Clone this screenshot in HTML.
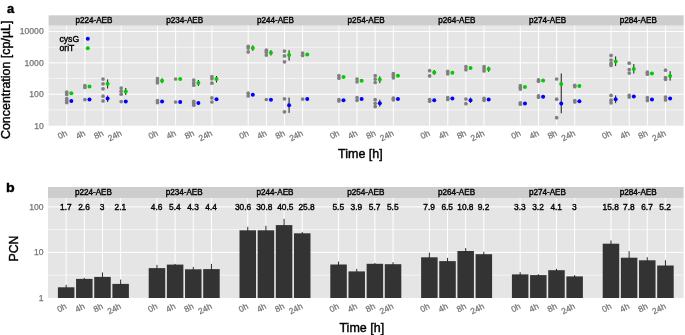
<!DOCTYPE html>
<html><head><meta charset="utf-8"><title>figure</title>
<style>html,body{margin:0;padding:0;background:#fff}svg{display:block}
text{stroke-width:0.4px}
text[fill="#000"],text[fill="#111"]{stroke:#000}
text[fill="#757575"]{stroke:#757575;stroke-width:0.25px}</style></head>
<body>
<svg width="685" height="335" viewBox="0 0 685 335" font-family='"Liberation Sans", sans-serif'>
<rect width="685" height="335" fill="#fff"/>
<rect x="48.6" y="15.3" width="635.05" height="10.399999999999999" fill="#cdcdcd"/>
<rect x="48.6" y="25.7" width="635.05" height="100.0" fill="#e5e5e5"/>
<line x1="48.6" x2="683.65" y1="47.25" y2="47.25" stroke="#fafafa" stroke-width="0.7"/>
<line x1="48.6" x2="683.65" y1="78.55" y2="78.55" stroke="#fafafa" stroke-width="0.7"/>
<line x1="48.6" x2="683.65" y1="109.90" y2="109.90" stroke="#fafafa" stroke-width="0.7"/>
<line x1="48.6" x2="683.65" y1="31.60" y2="31.60" stroke="#fff" stroke-width="1"/>
<line x1="48.6" x2="683.65" y1="62.90" y2="62.90" stroke="#fff" stroke-width="1"/>
<line x1="48.6" x2="683.65" y1="94.20" y2="94.20" stroke="#fff" stroke-width="1"/>
<line x1="66.74" x2="66.74" y1="25.7" y2="125.7" stroke="#fff" stroke-width="1"/>
<line x1="84.89" x2="84.89" y1="25.7" y2="125.7" stroke="#fff" stroke-width="1"/>
<line x1="103.03" x2="103.03" y1="25.7" y2="125.7" stroke="#fff" stroke-width="1"/>
<line x1="121.18" x2="121.18" y1="25.7" y2="125.7" stroke="#fff" stroke-width="1"/>
<line x1="157.47" x2="157.47" y1="25.7" y2="125.7" stroke="#fff" stroke-width="1"/>
<line x1="175.61" x2="175.61" y1="25.7" y2="125.7" stroke="#fff" stroke-width="1"/>
<line x1="193.75" x2="193.75" y1="25.7" y2="125.7" stroke="#fff" stroke-width="1"/>
<line x1="211.90" x2="211.90" y1="25.7" y2="125.7" stroke="#fff" stroke-width="1"/>
<line x1="248.19" x2="248.19" y1="25.7" y2="125.7" stroke="#fff" stroke-width="1"/>
<line x1="266.33" x2="266.33" y1="25.7" y2="125.7" stroke="#fff" stroke-width="1"/>
<line x1="284.48" x2="284.48" y1="25.7" y2="125.7" stroke="#fff" stroke-width="1"/>
<line x1="302.62" x2="302.62" y1="25.7" y2="125.7" stroke="#fff" stroke-width="1"/>
<line x1="338.91" x2="338.91" y1="25.7" y2="125.7" stroke="#fff" stroke-width="1"/>
<line x1="357.05" x2="357.05" y1="25.7" y2="125.7" stroke="#fff" stroke-width="1"/>
<line x1="375.20" x2="375.20" y1="25.7" y2="125.7" stroke="#fff" stroke-width="1"/>
<line x1="393.34" x2="393.34" y1="25.7" y2="125.7" stroke="#fff" stroke-width="1"/>
<line x1="429.63" x2="429.63" y1="25.7" y2="125.7" stroke="#fff" stroke-width="1"/>
<line x1="447.77" x2="447.77" y1="25.7" y2="125.7" stroke="#fff" stroke-width="1"/>
<line x1="465.92" x2="465.92" y1="25.7" y2="125.7" stroke="#fff" stroke-width="1"/>
<line x1="484.06" x2="484.06" y1="25.7" y2="125.7" stroke="#fff" stroke-width="1"/>
<line x1="520.35" x2="520.35" y1="25.7" y2="125.7" stroke="#fff" stroke-width="1"/>
<line x1="538.50" x2="538.50" y1="25.7" y2="125.7" stroke="#fff" stroke-width="1"/>
<line x1="556.64" x2="556.64" y1="25.7" y2="125.7" stroke="#fff" stroke-width="1"/>
<line x1="574.78" x2="574.78" y1="25.7" y2="125.7" stroke="#fff" stroke-width="1"/>
<line x1="611.07" x2="611.07" y1="25.7" y2="125.7" stroke="#fff" stroke-width="1"/>
<line x1="629.22" x2="629.22" y1="25.7" y2="125.7" stroke="#fff" stroke-width="1"/>
<line x1="647.36" x2="647.36" y1="25.7" y2="125.7" stroke="#fff" stroke-width="1"/>
<line x1="665.51" x2="665.51" y1="25.7" y2="125.7" stroke="#fff" stroke-width="1"/>
<text x="93.96" y="23.05" font-size="8.15" text-anchor="middle" fill="#111">p224-AEB</text>
<text x="184.68" y="23.05" font-size="8.15" text-anchor="middle" fill="#111">p234-AEB</text>
<text x="275.40" y="23.05" font-size="8.15" text-anchor="middle" fill="#111">p244-AEB</text>
<text x="366.12" y="23.05" font-size="8.15" text-anchor="middle" fill="#111">p254-AEB</text>
<text x="456.85" y="23.05" font-size="8.15" text-anchor="middle" fill="#111">p264-AEB</text>
<text x="547.57" y="23.05" font-size="8.15" text-anchor="middle" fill="#111">p274-AEB</text>
<text x="638.29" y="23.05" font-size="8.15" text-anchor="middle" fill="#111">p284-AEB</text>
<text transform="translate(65.14,129.60) rotate(-27)" font-size="8.5" text-anchor="end" dy="6.1" fill="#757575">0h</text>
<text transform="translate(83.29,129.60) rotate(-27)" font-size="8.5" text-anchor="end" dy="6.1" fill="#757575">4h</text>
<text transform="translate(101.43,129.60) rotate(-27)" font-size="8.5" text-anchor="end" dy="6.1" fill="#757575">8h</text>
<text transform="translate(119.58,129.60) rotate(-27)" font-size="8.5" text-anchor="end" dy="6.1" fill="#757575">24h</text>
<text transform="translate(155.87,129.60) rotate(-27)" font-size="8.5" text-anchor="end" dy="6.1" fill="#757575">0h</text>
<text transform="translate(174.01,129.60) rotate(-27)" font-size="8.5" text-anchor="end" dy="6.1" fill="#757575">4h</text>
<text transform="translate(192.15,129.60) rotate(-27)" font-size="8.5" text-anchor="end" dy="6.1" fill="#757575">8h</text>
<text transform="translate(210.30,129.60) rotate(-27)" font-size="8.5" text-anchor="end" dy="6.1" fill="#757575">24h</text>
<text transform="translate(246.59,129.60) rotate(-27)" font-size="8.5" text-anchor="end" dy="6.1" fill="#757575">0h</text>
<text transform="translate(264.73,129.60) rotate(-27)" font-size="8.5" text-anchor="end" dy="6.1" fill="#757575">4h</text>
<text transform="translate(282.88,129.60) rotate(-27)" font-size="8.5" text-anchor="end" dy="6.1" fill="#757575">8h</text>
<text transform="translate(301.02,129.60) rotate(-27)" font-size="8.5" text-anchor="end" dy="6.1" fill="#757575">24h</text>
<text transform="translate(337.31,129.60) rotate(-27)" font-size="8.5" text-anchor="end" dy="6.1" fill="#757575">0h</text>
<text transform="translate(355.45,129.60) rotate(-27)" font-size="8.5" text-anchor="end" dy="6.1" fill="#757575">4h</text>
<text transform="translate(373.60,129.60) rotate(-27)" font-size="8.5" text-anchor="end" dy="6.1" fill="#757575">8h</text>
<text transform="translate(391.74,129.60) rotate(-27)" font-size="8.5" text-anchor="end" dy="6.1" fill="#757575">24h</text>
<text transform="translate(428.03,129.60) rotate(-27)" font-size="8.5" text-anchor="end" dy="6.1" fill="#757575">0h</text>
<text transform="translate(446.17,129.60) rotate(-27)" font-size="8.5" text-anchor="end" dy="6.1" fill="#757575">4h</text>
<text transform="translate(464.32,129.60) rotate(-27)" font-size="8.5" text-anchor="end" dy="6.1" fill="#757575">8h</text>
<text transform="translate(482.46,129.60) rotate(-27)" font-size="8.5" text-anchor="end" dy="6.1" fill="#757575">24h</text>
<text transform="translate(518.75,129.60) rotate(-27)" font-size="8.5" text-anchor="end" dy="6.1" fill="#757575">0h</text>
<text transform="translate(536.90,129.60) rotate(-27)" font-size="8.5" text-anchor="end" dy="6.1" fill="#757575">4h</text>
<text transform="translate(555.04,129.60) rotate(-27)" font-size="8.5" text-anchor="end" dy="6.1" fill="#757575">8h</text>
<text transform="translate(573.18,129.60) rotate(-27)" font-size="8.5" text-anchor="end" dy="6.1" fill="#757575">24h</text>
<text transform="translate(609.47,129.60) rotate(-27)" font-size="8.5" text-anchor="end" dy="6.1" fill="#757575">0h</text>
<text transform="translate(627.62,129.60) rotate(-27)" font-size="8.5" text-anchor="end" dy="6.1" fill="#757575">4h</text>
<text transform="translate(645.76,129.60) rotate(-27)" font-size="8.5" text-anchor="end" dy="6.1" fill="#757575">8h</text>
<text transform="translate(663.91,129.60) rotate(-27)" font-size="8.5" text-anchor="end" dy="6.1" fill="#757575">24h</text>
<line x1="48.6" x2="683.65" y1="27.7" y2="27.7" stroke="#ececec" stroke-width="1"/>
<text x="43.7" y="34.30" font-size="8.6" text-anchor="end" fill="#757575">10000</text>
<text x="43.7" y="65.60" font-size="8.6" text-anchor="end" fill="#757575">1000</text>
<text x="43.7" y="96.90" font-size="8.6" text-anchor="end" fill="#757575">100</text>
<text x="43.7" y="128.80" font-size="8.6" text-anchor="end" fill="#757575">10</text>
<text x="7.0" y="13.3" font-size="12.9" font-weight="bold" fill="#000">a</text>
<text transform="translate(10.4,79.8) rotate(-90)" font-size="12.45" text-anchor="middle" fill="#000">Concentration [cp/µL]</text>
<text x="360.4" y="157.7" font-size="12.5" text-anchor="middle" fill="#000">Time [h]</text>
<text x="59.5" y="41.8" font-size="8.6" fill="#000">cysG</text>
<text x="59.5" y="51.3" font-size="8.6" fill="#000">oriT</text>
<circle cx="87.8" cy="38.8" r="2" fill="#0000ff"/>
<circle cx="87.8" cy="48.2" r="2" fill="#00cc00"/>
<circle cx="66.74" cy="92.2" r="1.85" fill="#808080"/>
<circle cx="66.74" cy="94.4" r="1.85" fill="#808080"/>
<circle cx="66.74" cy="98.5" r="1.85" fill="#808080"/>
<circle cx="66.74" cy="100.6" r="1.85" fill="#808080"/>
<circle cx="66.74" cy="102.6" r="1.85" fill="#808080"/>
<circle cx="71.34" cy="93.2" r="2" fill="#00cc00"/>
<circle cx="71.34" cy="100.9" r="2" fill="#0000ff"/>
<circle cx="84.89" cy="85.5" r="1.85" fill="#808080"/>
<circle cx="84.89" cy="87.5" r="1.85" fill="#808080"/>
<circle cx="84.89" cy="99.6" r="1.85" fill="#808080"/>
<circle cx="89.49" cy="86.4" r="2" fill="#00cc00"/>
<circle cx="89.49" cy="99.6" r="2" fill="#0000ff"/>
<circle cx="103.03" cy="79.1" r="1.85" fill="#808080"/>
<circle cx="103.03" cy="83.8" r="1.85" fill="#808080"/>
<circle cx="103.03" cy="88.8" r="1.85" fill="#808080"/>
<circle cx="103.03" cy="96.2" r="1.85" fill="#808080"/>
<circle cx="103.03" cy="100.9" r="1.85" fill="#808080"/>
<line x1="107.63" x2="107.63" y1="79.4" y2="88.5" stroke="#111" stroke-width="0.95"/>
<line x1="107.63" x2="107.63" y1="95.5" y2="102" stroke="#111" stroke-width="0.95"/>
<circle cx="107.63" cy="83.8" r="2" fill="#00cc00"/>
<circle cx="107.63" cy="98.6" r="2" fill="#0000ff"/>
<circle cx="121.18" cy="88.1" r="1.85" fill="#808080"/>
<circle cx="121.18" cy="91.2" r="1.85" fill="#808080"/>
<circle cx="121.18" cy="94.2" r="1.85" fill="#808080"/>
<circle cx="121.18" cy="101.6" r="1.85" fill="#808080"/>
<line x1="125.78" x2="125.78" y1="88" y2="95" stroke="#111" stroke-width="0.95"/>
<circle cx="125.78" cy="91.5" r="2" fill="#00cc00"/>
<circle cx="125.78" cy="101.6" r="2" fill="#0000ff"/>
<circle cx="157.47" cy="78.7" r="1.85" fill="#808080"/>
<circle cx="157.47" cy="80.7" r="1.85" fill="#808080"/>
<circle cx="157.47" cy="82.8" r="1.85" fill="#808080"/>
<circle cx="157.47" cy="100.6" r="1.85" fill="#808080"/>
<circle cx="157.47" cy="102.6" r="1.85" fill="#808080"/>
<line x1="162.07" x2="162.07" y1="78.3" y2="83.2" stroke="#111" stroke-width="0.95"/>
<circle cx="162.07" cy="80.7" r="2" fill="#00cc00"/>
<circle cx="162.07" cy="101.6" r="2" fill="#0000ff"/>
<circle cx="175.61" cy="79" r="1.85" fill="#808080"/>
<circle cx="175.61" cy="102" r="1.85" fill="#808080"/>
<circle cx="180.21" cy="79.0" r="2" fill="#00cc00"/>
<circle cx="180.21" cy="102" r="2" fill="#0000ff"/>
<circle cx="193.75" cy="80.1" r="1.85" fill="#808080"/>
<circle cx="193.75" cy="82.8" r="1.85" fill="#808080"/>
<circle cx="193.75" cy="85.2" r="1.85" fill="#808080"/>
<circle cx="193.75" cy="101.3" r="1.85" fill="#808080"/>
<circle cx="193.75" cy="103.3" r="1.85" fill="#808080"/>
<circle cx="193.75" cy="105.2" r="1.85" fill="#808080"/>
<line x1="198.35" x2="198.35" y1="80" y2="85.9" stroke="#111" stroke-width="0.95"/>
<circle cx="198.35" cy="83.0" r="2" fill="#00cc00"/>
<circle cx="198.35" cy="102.9" r="2" fill="#0000ff"/>
<circle cx="211.90" cy="76.7" r="1.85" fill="#808080"/>
<circle cx="211.90" cy="78.7" r="1.85" fill="#808080"/>
<circle cx="211.90" cy="83.2" r="1.85" fill="#808080"/>
<circle cx="211.90" cy="97.9" r="1.85" fill="#808080"/>
<circle cx="211.90" cy="102" r="1.85" fill="#808080"/>
<line x1="216.50" x2="216.50" y1="76" y2="82.4" stroke="#111" stroke-width="0.95"/>
<circle cx="216.50" cy="79.1" r="2" fill="#00cc00"/>
<circle cx="216.50" cy="99.2" r="2" fill="#0000ff"/>
<circle cx="248.19" cy="46.4" r="1.85" fill="#808080"/>
<circle cx="248.19" cy="48.1" r="1.85" fill="#808080"/>
<circle cx="248.19" cy="51.9" r="1.85" fill="#808080"/>
<circle cx="248.19" cy="93.2" r="1.85" fill="#808080"/>
<circle cx="248.19" cy="95.9" r="1.85" fill="#808080"/>
<line x1="252.79" x2="252.79" y1="45.4" y2="50.8" stroke="#111" stroke-width="0.95"/>
<circle cx="252.79" cy="48.1" r="2" fill="#00cc00"/>
<circle cx="252.79" cy="94.8" r="2" fill="#0000ff"/>
<circle cx="266.33" cy="50.2" r="1.85" fill="#808080"/>
<circle cx="266.33" cy="52.2" r="1.85" fill="#808080"/>
<circle cx="266.33" cy="55.1" r="1.85" fill="#808080"/>
<circle cx="266.33" cy="99.5" r="1.85" fill="#808080"/>
<line x1="270.93" x2="270.93" y1="50.2" y2="55.5" stroke="#111" stroke-width="0.95"/>
<circle cx="270.93" cy="52.8" r="2" fill="#00cc00"/>
<circle cx="270.93" cy="99.7" r="2" fill="#0000ff"/>
<circle cx="284.48" cy="51.1" r="1.85" fill="#808080"/>
<circle cx="284.48" cy="55.9" r="1.85" fill="#808080"/>
<circle cx="284.48" cy="61.8" r="1.85" fill="#808080"/>
<circle cx="284.48" cy="98.8" r="1.85" fill="#808080"/>
<circle cx="284.48" cy="111.8" r="1.85" fill="#808080"/>
<line x1="289.08" x2="289.08" y1="50.2" y2="60.6" stroke="#111" stroke-width="0.95"/>
<line x1="289.08" x2="289.08" y1="97.5" y2="112.9" stroke="#111" stroke-width="0.95"/>
<circle cx="289.08" cy="55.1" r="2" fill="#00cc00"/>
<circle cx="289.08" cy="105.3" r="2" fill="#0000ff"/>
<circle cx="302.62" cy="53.1" r="1.85" fill="#808080"/>
<circle cx="302.62" cy="55.5" r="1.85" fill="#808080"/>
<circle cx="302.62" cy="99.1" r="1.85" fill="#808080"/>
<circle cx="307.22" cy="54.4" r="2" fill="#00cc00"/>
<circle cx="307.22" cy="99.1" r="2" fill="#0000ff"/>
<circle cx="338.91" cy="75.5" r="1.85" fill="#808080"/>
<circle cx="338.91" cy="78.2" r="1.85" fill="#808080"/>
<circle cx="338.91" cy="99.6" r="1.85" fill="#808080"/>
<circle cx="338.91" cy="101.0" r="1.85" fill="#808080"/>
<circle cx="343.51" cy="77.1" r="2" fill="#00cc00"/>
<circle cx="343.51" cy="100.3" r="2" fill="#0000ff"/>
<circle cx="357.05" cy="79.1" r="1.85" fill="#808080"/>
<circle cx="357.05" cy="81.8" r="1.85" fill="#808080"/>
<circle cx="357.05" cy="97.6" r="1.85" fill="#808080"/>
<circle cx="357.05" cy="100.3" r="1.85" fill="#808080"/>
<circle cx="361.65" cy="80.7" r="2" fill="#00cc00"/>
<circle cx="361.65" cy="99" r="2" fill="#0000ff"/>
<circle cx="375.20" cy="75.7" r="1.85" fill="#808080"/>
<circle cx="375.20" cy="79.1" r="1.85" fill="#808080"/>
<circle cx="375.20" cy="82.5" r="1.85" fill="#808080"/>
<circle cx="375.20" cy="99.7" r="1.85" fill="#808080"/>
<circle cx="375.20" cy="103.3" r="1.85" fill="#808080"/>
<circle cx="375.20" cy="106.6" r="1.85" fill="#808080"/>
<line x1="379.80" x2="379.80" y1="76.4" y2="83.1" stroke="#111" stroke-width="0.95"/>
<line x1="379.80" x2="379.80" y1="99.7" y2="106.6" stroke="#111" stroke-width="0.95"/>
<circle cx="379.80" cy="79.4" r="2" fill="#00cc00"/>
<circle cx="379.80" cy="103.3" r="2" fill="#0000ff"/>
<circle cx="393.34" cy="73.7" r="1.85" fill="#808080"/>
<circle cx="393.34" cy="75.7" r="1.85" fill="#808080"/>
<circle cx="393.34" cy="77.8" r="1.85" fill="#808080"/>
<circle cx="393.34" cy="98.2" r="1.85" fill="#808080"/>
<circle cx="393.34" cy="99.8" r="1.85" fill="#808080"/>
<circle cx="397.94" cy="75.7" r="2" fill="#00cc00"/>
<circle cx="397.94" cy="99" r="2" fill="#0000ff"/>
<circle cx="429.63" cy="70.7" r="1.85" fill="#808080"/>
<circle cx="429.63" cy="75.9" r="1.85" fill="#808080"/>
<circle cx="429.63" cy="99.5" r="1.85" fill="#808080"/>
<circle cx="429.63" cy="101.2" r="1.85" fill="#808080"/>
<line x1="434.23" x2="434.23" y1="70" y2="74.8" stroke="#111" stroke-width="0.95"/>
<circle cx="434.23" cy="72.4" r="2" fill="#00cc00"/>
<circle cx="434.23" cy="100.3" r="2" fill="#0000ff"/>
<circle cx="447.77" cy="71.4" r="1.85" fill="#808080"/>
<circle cx="447.77" cy="73.8" r="1.85" fill="#808080"/>
<circle cx="447.77" cy="97.7" r="1.85" fill="#808080"/>
<circle cx="447.77" cy="99.5" r="1.85" fill="#808080"/>
<circle cx="452.37" cy="72.8" r="2" fill="#00cc00"/>
<circle cx="452.37" cy="98.6" r="2" fill="#0000ff"/>
<circle cx="465.92" cy="66.7" r="1.85" fill="#808080"/>
<circle cx="465.92" cy="69.7" r="1.85" fill="#808080"/>
<circle cx="465.92" cy="99" r="1.85" fill="#808080"/>
<circle cx="465.92" cy="103.7" r="1.85" fill="#808080"/>
<line x1="470.52" x2="470.52" y1="97.6" y2="103" stroke="#111" stroke-width="0.95"/>
<circle cx="470.52" cy="68.1" r="2" fill="#00cc00"/>
<circle cx="470.52" cy="100.3" r="2" fill="#0000ff"/>
<circle cx="484.06" cy="66.7" r="1.85" fill="#808080"/>
<circle cx="484.06" cy="68.9" r="1.85" fill="#808080"/>
<circle cx="484.06" cy="71" r="1.85" fill="#808080"/>
<circle cx="484.06" cy="98.3" r="1.85" fill="#808080"/>
<circle cx="484.06" cy="100.3" r="1.85" fill="#808080"/>
<line x1="488.66" x2="488.66" y1="66.7" y2="71.8" stroke="#111" stroke-width="0.95"/>
<circle cx="488.66" cy="69.1" r="2" fill="#00cc00"/>
<circle cx="488.66" cy="99.6" r="2" fill="#0000ff"/>
<circle cx="520.35" cy="85.7" r="1.85" fill="#808080"/>
<circle cx="520.35" cy="87.4" r="1.85" fill="#808080"/>
<circle cx="520.35" cy="89.1" r="1.85" fill="#808080"/>
<circle cx="520.35" cy="102.8" r="1.85" fill="#808080"/>
<circle cx="520.35" cy="104.2" r="1.85" fill="#808080"/>
<circle cx="524.95" cy="87.1" r="2" fill="#00cc00"/>
<circle cx="524.95" cy="103.5" r="2" fill="#0000ff"/>
<circle cx="538.50" cy="79.9" r="1.85" fill="#808080"/>
<circle cx="538.50" cy="81.3" r="1.85" fill="#808080"/>
<circle cx="538.50" cy="95.8" r="1.85" fill="#808080"/>
<circle cx="538.50" cy="97.2" r="1.85" fill="#808080"/>
<circle cx="543.10" cy="80.6" r="2" fill="#00cc00"/>
<circle cx="543.10" cy="96.8" r="2" fill="#0000ff"/>
<circle cx="556.64" cy="79" r="1.85" fill="#808080"/>
<circle cx="556.64" cy="99.2" r="1.85" fill="#808080"/>
<circle cx="556.64" cy="117.7" r="1.85" fill="#808080"/>
<line x1="561.24" x2="561.24" y1="73.5" y2="113.3" stroke="#111" stroke-width="0.95"/>
<circle cx="561.24" cy="84.1" r="2" fill="#00cc00"/>
<circle cx="561.24" cy="103.5" r="2" fill="#0000ff"/>
<circle cx="574.78" cy="85.3" r="1.85" fill="#808080"/>
<circle cx="574.78" cy="86.7" r="1.85" fill="#808080"/>
<circle cx="574.78" cy="100.5" r="1.85" fill="#808080"/>
<circle cx="574.78" cy="101.9" r="1.85" fill="#808080"/>
<circle cx="579.38" cy="86" r="2" fill="#00cc00"/>
<circle cx="579.38" cy="101.2" r="2" fill="#0000ff"/>
<circle cx="611.07" cy="55.4" r="1.85" fill="#808080"/>
<circle cx="611.07" cy="60.1" r="1.85" fill="#808080"/>
<circle cx="611.07" cy="63.4" r="1.85" fill="#808080"/>
<circle cx="611.07" cy="65.4" r="1.85" fill="#808080"/>
<circle cx="611.07" cy="95.4" r="1.85" fill="#808080"/>
<circle cx="611.07" cy="100.2" r="1.85" fill="#808080"/>
<circle cx="611.07" cy="102.8" r="1.85" fill="#808080"/>
<line x1="615.67" x2="615.67" y1="56.4" y2="66.1" stroke="#111" stroke-width="0.95"/>
<line x1="615.67" x2="615.67" y1="95.4" y2="103.1" stroke="#111" stroke-width="0.95"/>
<circle cx="615.67" cy="61.4" r="2" fill="#00cc00"/>
<circle cx="615.67" cy="99.2" r="2" fill="#0000ff"/>
<circle cx="629.22" cy="63.2" r="1.85" fill="#808080"/>
<circle cx="629.22" cy="69.5" r="1.85" fill="#808080"/>
<circle cx="629.22" cy="73.1" r="1.85" fill="#808080"/>
<circle cx="629.22" cy="95.4" r="1.85" fill="#808080"/>
<circle cx="629.22" cy="97.1" r="1.85" fill="#808080"/>
<line x1="633.82" x2="633.82" y1="64.1" y2="73.5" stroke="#111" stroke-width="0.95"/>
<circle cx="633.82" cy="69.1" r="2" fill="#00cc00"/>
<circle cx="633.82" cy="96.4" r="2" fill="#0000ff"/>
<circle cx="647.36" cy="72.2" r="1.85" fill="#808080"/>
<circle cx="647.36" cy="74.2" r="1.85" fill="#808080"/>
<circle cx="647.36" cy="97.5" r="1.85" fill="#808080"/>
<circle cx="647.36" cy="100.4" r="1.85" fill="#808080"/>
<circle cx="651.96" cy="73.5" r="2" fill="#00cc00"/>
<circle cx="651.96" cy="99.5" r="2" fill="#0000ff"/>
<circle cx="665.51" cy="70.2" r="1.85" fill="#808080"/>
<circle cx="665.51" cy="77.5" r="1.85" fill="#808080"/>
<circle cx="665.51" cy="79.3" r="1.85" fill="#808080"/>
<circle cx="665.51" cy="97.2" r="1.85" fill="#808080"/>
<circle cx="665.51" cy="99.9" r="1.85" fill="#808080"/>
<line x1="670.11" x2="670.11" y1="71.2" y2="80.6" stroke="#111" stroke-width="0.95"/>
<circle cx="670.11" cy="75.9" r="2" fill="#00cc00"/>
<circle cx="670.11" cy="98.4" r="2" fill="#0000ff"/>
<rect x="48.0" y="187.0" width="635.6" height="11.099999999999994" fill="#cdcdcd"/>
<rect x="48.0" y="198.1" width="635.6" height="99.9" fill="#e5e5e5"/>
<line x1="48.0" x2="683.6" y1="229.65" y2="229.65" stroke="#fafafa" stroke-width="0.7"/>
<line x1="48.0" x2="683.6" y1="275.15" y2="275.15" stroke="#fafafa" stroke-width="0.7"/>
<line x1="48.0" x2="683.6" y1="206.90" y2="206.90" stroke="#fff" stroke-width="1"/>
<line x1="48.0" x2="683.6" y1="252.40" y2="252.40" stroke="#fff" stroke-width="1"/>
<line x1="66.16" x2="66.16" y1="198.1" y2="298.0" stroke="#fff" stroke-width="1"/>
<line x1="84.32" x2="84.32" y1="198.1" y2="298.0" stroke="#fff" stroke-width="1"/>
<line x1="102.48" x2="102.48" y1="198.1" y2="298.0" stroke="#fff" stroke-width="1"/>
<line x1="120.64" x2="120.64" y1="198.1" y2="298.0" stroke="#fff" stroke-width="1"/>
<line x1="156.96" x2="156.96" y1="198.1" y2="298.0" stroke="#fff" stroke-width="1"/>
<line x1="175.12" x2="175.12" y1="198.1" y2="298.0" stroke="#fff" stroke-width="1"/>
<line x1="193.28" x2="193.28" y1="198.1" y2="298.0" stroke="#fff" stroke-width="1"/>
<line x1="211.44" x2="211.44" y1="198.1" y2="298.0" stroke="#fff" stroke-width="1"/>
<line x1="247.76" x2="247.76" y1="198.1" y2="298.0" stroke="#fff" stroke-width="1"/>
<line x1="265.92" x2="265.92" y1="198.1" y2="298.0" stroke="#fff" stroke-width="1"/>
<line x1="284.08" x2="284.08" y1="198.1" y2="298.0" stroke="#fff" stroke-width="1"/>
<line x1="302.24" x2="302.24" y1="198.1" y2="298.0" stroke="#fff" stroke-width="1"/>
<line x1="338.56" x2="338.56" y1="198.1" y2="298.0" stroke="#fff" stroke-width="1"/>
<line x1="356.72" x2="356.72" y1="198.1" y2="298.0" stroke="#fff" stroke-width="1"/>
<line x1="374.88" x2="374.88" y1="198.1" y2="298.0" stroke="#fff" stroke-width="1"/>
<line x1="393.04" x2="393.04" y1="198.1" y2="298.0" stroke="#fff" stroke-width="1"/>
<line x1="429.36" x2="429.36" y1="198.1" y2="298.0" stroke="#fff" stroke-width="1"/>
<line x1="447.52" x2="447.52" y1="198.1" y2="298.0" stroke="#fff" stroke-width="1"/>
<line x1="465.68" x2="465.68" y1="198.1" y2="298.0" stroke="#fff" stroke-width="1"/>
<line x1="483.84" x2="483.84" y1="198.1" y2="298.0" stroke="#fff" stroke-width="1"/>
<line x1="520.16" x2="520.16" y1="198.1" y2="298.0" stroke="#fff" stroke-width="1"/>
<line x1="538.32" x2="538.32" y1="198.1" y2="298.0" stroke="#fff" stroke-width="1"/>
<line x1="556.48" x2="556.48" y1="198.1" y2="298.0" stroke="#fff" stroke-width="1"/>
<line x1="574.64" x2="574.64" y1="198.1" y2="298.0" stroke="#fff" stroke-width="1"/>
<line x1="610.96" x2="610.96" y1="198.1" y2="298.0" stroke="#fff" stroke-width="1"/>
<line x1="629.12" x2="629.12" y1="198.1" y2="298.0" stroke="#fff" stroke-width="1"/>
<line x1="647.28" x2="647.28" y1="198.1" y2="298.0" stroke="#fff" stroke-width="1"/>
<line x1="665.44" x2="665.44" y1="198.1" y2="298.0" stroke="#fff" stroke-width="1"/>
<text x="93.40" y="195.10" font-size="8.15" text-anchor="middle" fill="#111">p224-AEB</text>
<text x="184.20" y="195.10" font-size="8.15" text-anchor="middle" fill="#111">p234-AEB</text>
<text x="275.00" y="195.10" font-size="8.15" text-anchor="middle" fill="#111">p244-AEB</text>
<text x="365.80" y="195.10" font-size="8.15" text-anchor="middle" fill="#111">p254-AEB</text>
<text x="456.60" y="195.10" font-size="8.15" text-anchor="middle" fill="#111">p264-AEB</text>
<text x="547.40" y="195.10" font-size="8.15" text-anchor="middle" fill="#111">p274-AEB</text>
<text x="638.20" y="195.10" font-size="8.15" text-anchor="middle" fill="#111">p284-AEB</text>
<text transform="translate(64.56,302.70) rotate(-27)" font-size="8.5" text-anchor="end" dy="6.1" fill="#757575">0h</text>
<text transform="translate(82.72,302.70) rotate(-27)" font-size="8.5" text-anchor="end" dy="6.1" fill="#757575">4h</text>
<text transform="translate(100.88,302.70) rotate(-27)" font-size="8.5" text-anchor="end" dy="6.1" fill="#757575">8h</text>
<text transform="translate(119.04,302.70) rotate(-27)" font-size="8.5" text-anchor="end" dy="6.1" fill="#757575">24h</text>
<text transform="translate(155.36,302.70) rotate(-27)" font-size="8.5" text-anchor="end" dy="6.1" fill="#757575">0h</text>
<text transform="translate(173.52,302.70) rotate(-27)" font-size="8.5" text-anchor="end" dy="6.1" fill="#757575">4h</text>
<text transform="translate(191.68,302.70) rotate(-27)" font-size="8.5" text-anchor="end" dy="6.1" fill="#757575">8h</text>
<text transform="translate(209.84,302.70) rotate(-27)" font-size="8.5" text-anchor="end" dy="6.1" fill="#757575">24h</text>
<text transform="translate(246.16,302.70) rotate(-27)" font-size="8.5" text-anchor="end" dy="6.1" fill="#757575">0h</text>
<text transform="translate(264.32,302.70) rotate(-27)" font-size="8.5" text-anchor="end" dy="6.1" fill="#757575">4h</text>
<text transform="translate(282.48,302.70) rotate(-27)" font-size="8.5" text-anchor="end" dy="6.1" fill="#757575">8h</text>
<text transform="translate(300.64,302.70) rotate(-27)" font-size="8.5" text-anchor="end" dy="6.1" fill="#757575">24h</text>
<text transform="translate(336.96,302.70) rotate(-27)" font-size="8.5" text-anchor="end" dy="6.1" fill="#757575">0h</text>
<text transform="translate(355.12,302.70) rotate(-27)" font-size="8.5" text-anchor="end" dy="6.1" fill="#757575">4h</text>
<text transform="translate(373.28,302.70) rotate(-27)" font-size="8.5" text-anchor="end" dy="6.1" fill="#757575">8h</text>
<text transform="translate(391.44,302.70) rotate(-27)" font-size="8.5" text-anchor="end" dy="6.1" fill="#757575">24h</text>
<text transform="translate(427.76,302.70) rotate(-27)" font-size="8.5" text-anchor="end" dy="6.1" fill="#757575">0h</text>
<text transform="translate(445.92,302.70) rotate(-27)" font-size="8.5" text-anchor="end" dy="6.1" fill="#757575">4h</text>
<text transform="translate(464.08,302.70) rotate(-27)" font-size="8.5" text-anchor="end" dy="6.1" fill="#757575">8h</text>
<text transform="translate(482.24,302.70) rotate(-27)" font-size="8.5" text-anchor="end" dy="6.1" fill="#757575">24h</text>
<text transform="translate(518.56,302.70) rotate(-27)" font-size="8.5" text-anchor="end" dy="6.1" fill="#757575">0h</text>
<text transform="translate(536.72,302.70) rotate(-27)" font-size="8.5" text-anchor="end" dy="6.1" fill="#757575">4h</text>
<text transform="translate(554.88,302.70) rotate(-27)" font-size="8.5" text-anchor="end" dy="6.1" fill="#757575">8h</text>
<text transform="translate(573.04,302.70) rotate(-27)" font-size="8.5" text-anchor="end" dy="6.1" fill="#757575">24h</text>
<text transform="translate(609.36,302.70) rotate(-27)" font-size="8.5" text-anchor="end" dy="6.1" fill="#757575">0h</text>
<text transform="translate(627.52,302.70) rotate(-27)" font-size="8.5" text-anchor="end" dy="6.1" fill="#757575">4h</text>
<text transform="translate(645.68,302.70) rotate(-27)" font-size="8.5" text-anchor="end" dy="6.1" fill="#757575">8h</text>
<text transform="translate(663.84,302.70) rotate(-27)" font-size="8.5" text-anchor="end" dy="6.1" fill="#757575">24h</text>
<text x="43.6" y="209.90" font-size="8.6" text-anchor="end" fill="#757575">100</text>
<text x="43.6" y="255.40" font-size="8.6" text-anchor="end" fill="#757575">10</text>
<text x="43.6" y="300.90" font-size="8.6" text-anchor="end" fill="#757575">1</text>
<text transform="translate(6.0,191.9) scale(1.1,1)" font-size="12.9" font-weight="bold" fill="#000">b</text>
<text transform="translate(17.9,248.5) rotate(-90)" font-size="12.3" text-anchor="middle" fill="#000">PCN</text>
<text x="361.8" y="331.5" font-size="12.5" text-anchor="middle" fill="#000">Time [h]</text>
<rect x="57.91" y="287.30" width="16.50" height="10.70" fill="#333"/>
<line x1="66.16" x2="66.16" y1="284.8" y2="288.30" stroke="#2b2b2b" stroke-width="1"/>
<text x="65.86" y="209.8" font-size="8.35" text-anchor="middle" fill="#111">1.7</text>
<rect x="76.07" y="278.90" width="16.50" height="19.10" fill="#333"/>
<line x1="84.32" x2="84.32" y1="277.8" y2="279.90" stroke="#2b2b2b" stroke-width="1"/>
<text x="84.02" y="209.8" font-size="8.35" text-anchor="middle" fill="#111">2.6</text>
<rect x="94.23" y="276.90" width="16.50" height="21.10" fill="#333"/>
<line x1="102.48" x2="102.48" y1="272.5" y2="277.90" stroke="#2b2b2b" stroke-width="1"/>
<text x="102.18" y="209.8" font-size="8.35" text-anchor="middle" fill="#111">3</text>
<rect x="112.39" y="283.90" width="16.50" height="14.10" fill="#333"/>
<line x1="120.64" x2="120.64" y1="279.6" y2="284.90" stroke="#2b2b2b" stroke-width="1"/>
<text x="120.34" y="209.8" font-size="8.35" text-anchor="middle" fill="#111">2.1</text>
<rect x="148.71" y="268.10" width="16.50" height="29.90" fill="#333"/>
<line x1="156.96" x2="156.96" y1="264.9" y2="269.10" stroke="#2b2b2b" stroke-width="1"/>
<text x="156.66" y="209.8" font-size="8.35" text-anchor="middle" fill="#111">4.6</text>
<rect x="166.87" y="264.60" width="16.50" height="33.40" fill="#333"/>
<line x1="175.12" x2="175.12" y1="263.9" y2="265.60" stroke="#2b2b2b" stroke-width="1"/>
<text x="174.82" y="209.8" font-size="8.35" text-anchor="middle" fill="#111">5.4</text>
<rect x="185.03" y="269.30" width="16.50" height="28.70" fill="#333"/>
<line x1="193.28" x2="193.28" y1="266.9" y2="270.30" stroke="#2b2b2b" stroke-width="1"/>
<text x="192.98" y="209.8" font-size="8.35" text-anchor="middle" fill="#111">4.3</text>
<rect x="203.19" y="269.10" width="16.50" height="28.90" fill="#333"/>
<line x1="211.44" x2="211.44" y1="263.9" y2="270.10" stroke="#2b2b2b" stroke-width="1"/>
<text x="211.14" y="209.8" font-size="8.35" text-anchor="middle" fill="#111">4.4</text>
<rect x="239.51" y="230.30" width="16.50" height="67.70" fill="#333"/>
<line x1="247.76" x2="247.76" y1="226.8" y2="231.30" stroke="#2b2b2b" stroke-width="1"/>
<text x="243.10" y="209.8" font-size="8.35" text-anchor="middle" fill="#111">30.6</text>
<rect x="257.67" y="230.30" width="16.50" height="67.70" fill="#333"/>
<line x1="265.92" x2="265.92" y1="225.8" y2="231.30" stroke="#2b2b2b" stroke-width="1"/>
<text x="264.30" y="209.8" font-size="8.35" text-anchor="middle" fill="#111">30.8</text>
<rect x="275.83" y="225.10" width="16.50" height="72.90" fill="#333"/>
<line x1="284.08" x2="284.08" y1="218.9" y2="226.10" stroke="#2b2b2b" stroke-width="1"/>
<text x="285.30" y="209.8" font-size="8.35" text-anchor="middle" fill="#111">40.5</text>
<rect x="293.99" y="233.30" width="16.50" height="64.70" fill="#333"/>
<line x1="302.24" x2="302.24" y1="231.9" y2="234.30" stroke="#2b2b2b" stroke-width="1"/>
<text x="306.50" y="209.8" font-size="8.35" text-anchor="middle" fill="#111">25.8</text>
<rect x="330.31" y="264.50" width="16.50" height="33.50" fill="#333"/>
<line x1="338.56" x2="338.56" y1="261.5" y2="265.50" stroke="#2b2b2b" stroke-width="1"/>
<text x="338.26" y="209.8" font-size="8.35" text-anchor="middle" fill="#111">5.5</text>
<rect x="348.47" y="271.40" width="16.50" height="26.60" fill="#333"/>
<line x1="356.72" x2="356.72" y1="268.9" y2="272.40" stroke="#2b2b2b" stroke-width="1"/>
<text x="356.42" y="209.8" font-size="8.35" text-anchor="middle" fill="#111">3.9</text>
<rect x="366.63" y="263.80" width="16.50" height="34.20" fill="#333"/>
<line x1="374.88" x2="374.88" y1="263.1" y2="264.80" stroke="#2b2b2b" stroke-width="1"/>
<text x="374.58" y="209.8" font-size="8.35" text-anchor="middle" fill="#111">5.7</text>
<rect x="384.79" y="264.20" width="16.50" height="33.80" fill="#333"/>
<line x1="393.04" x2="393.04" y1="262.2" y2="265.20" stroke="#2b2b2b" stroke-width="1"/>
<text x="392.74" y="209.8" font-size="8.35" text-anchor="middle" fill="#111">5.5</text>
<rect x="421.11" y="257.30" width="16.50" height="40.70" fill="#333"/>
<line x1="429.36" x2="429.36" y1="252.6" y2="258.30" stroke="#2b2b2b" stroke-width="1"/>
<text x="429.06" y="209.8" font-size="8.35" text-anchor="middle" fill="#111">7.9</text>
<rect x="439.27" y="261.10" width="16.50" height="36.90" fill="#333"/>
<line x1="447.52" x2="447.52" y1="257.9" y2="262.10" stroke="#2b2b2b" stroke-width="1"/>
<text x="447.22" y="209.8" font-size="8.35" text-anchor="middle" fill="#111">6.5</text>
<rect x="457.43" y="251.00" width="16.50" height="47.00" fill="#333"/>
<line x1="465.68" x2="465.68" y1="248.1" y2="252.00" stroke="#2b2b2b" stroke-width="1"/>
<text x="465.38" y="209.8" font-size="8.35" text-anchor="middle" fill="#111">10.8</text>
<rect x="475.59" y="254.20" width="16.50" height="43.80" fill="#333"/>
<line x1="483.84" x2="483.84" y1="251.8" y2="255.20" stroke="#2b2b2b" stroke-width="1"/>
<text x="483.54" y="209.8" font-size="8.35" text-anchor="middle" fill="#111">9.2</text>
<rect x="511.91" y="274.40" width="16.50" height="23.60" fill="#333"/>
<line x1="520.16" x2="520.16" y1="272.2" y2="275.40" stroke="#2b2b2b" stroke-width="1"/>
<text x="519.86" y="209.8" font-size="8.35" text-anchor="middle" fill="#111">3.3</text>
<rect x="530.07" y="275.10" width="16.50" height="22.90" fill="#333"/>
<line x1="538.32" x2="538.32" y1="274.2" y2="276.10" stroke="#2b2b2b" stroke-width="1"/>
<text x="538.02" y="209.8" font-size="8.35" text-anchor="middle" fill="#111">3.2</text>
<rect x="548.23" y="270.20" width="16.50" height="27.80" fill="#333"/>
<line x1="556.48" x2="556.48" y1="268.8" y2="271.20" stroke="#2b2b2b" stroke-width="1"/>
<text x="556.18" y="209.8" font-size="8.35" text-anchor="middle" fill="#111">4.1</text>
<rect x="566.39" y="276.40" width="16.50" height="21.60" fill="#333"/>
<line x1="574.64" x2="574.64" y1="275.1" y2="277.40" stroke="#2b2b2b" stroke-width="1"/>
<text x="574.34" y="209.8" font-size="8.35" text-anchor="middle" fill="#111">3</text>
<rect x="602.71" y="243.70" width="16.50" height="54.30" fill="#333"/>
<line x1="610.96" x2="610.96" y1="240.4" y2="244.70" stroke="#2b2b2b" stroke-width="1"/>
<text x="610.66" y="209.8" font-size="8.35" text-anchor="middle" fill="#111">15.8</text>
<rect x="620.87" y="257.70" width="16.50" height="40.30" fill="#333"/>
<line x1="629.12" x2="629.12" y1="251.2" y2="258.70" stroke="#2b2b2b" stroke-width="1"/>
<text x="628.82" y="209.8" font-size="8.35" text-anchor="middle" fill="#111">7.8</text>
<rect x="639.03" y="260.30" width="16.50" height="37.70" fill="#333"/>
<line x1="647.28" x2="647.28" y1="257.2" y2="261.30" stroke="#2b2b2b" stroke-width="1"/>
<text x="646.98" y="209.8" font-size="8.35" text-anchor="middle" fill="#111">6.7</text>
<rect x="657.19" y="265.50" width="16.50" height="32.50" fill="#333"/>
<line x1="665.44" x2="665.44" y1="260.2" y2="266.50" stroke="#2b2b2b" stroke-width="1"/>
<text x="665.14" y="209.8" font-size="8.35" text-anchor="middle" fill="#111">5.2</text>
</svg>
</body></html>
